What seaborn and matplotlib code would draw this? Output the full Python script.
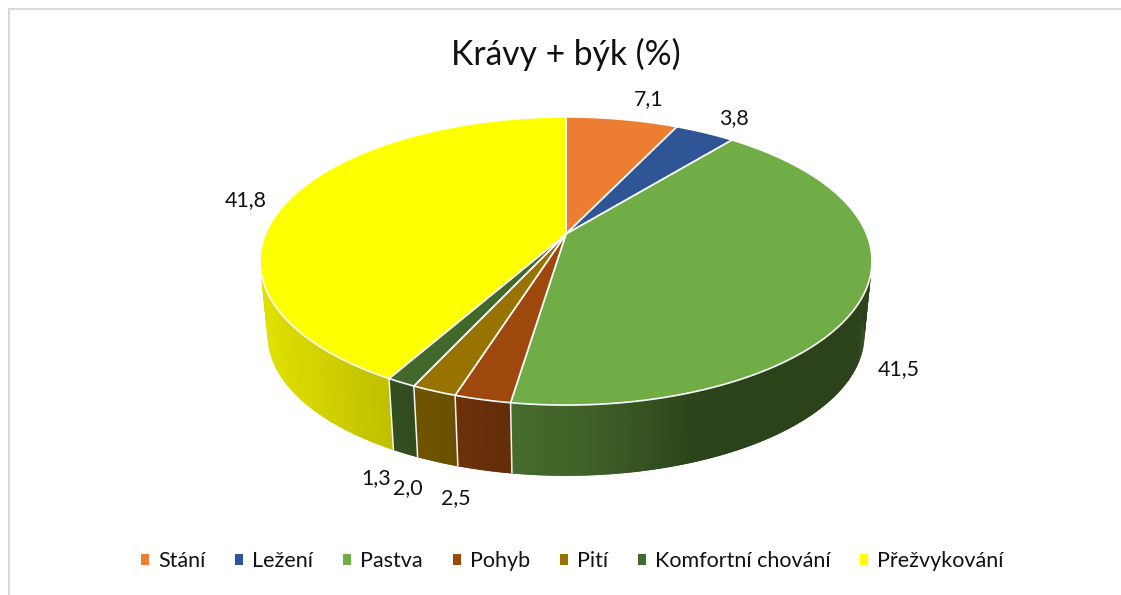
import matplotlib
matplotlib.use("Agg")
import matplotlib.pyplot as plt
from matplotlib.collections import PolyCollection
from matplotlib.patches import Patch
import numpy as np
import seaborn as sns

labels = ["Stání", "Ležení", "Pastva", "Pohyb", "Pití", "Komfortní chování", "Přežvykování"]
values = [7.1, 3.8, 41.5, 2.5, 2.0, 1.3, 41.8]
value_text = ["7,1", "3,8", "41,5", "2,5", "2,0", "1,3", "41,8"]
hex_colors = ["#ED7D31", "#2F5597", "#70AD47", "#9E480E", "#997300", "#43682B", "#FFFF00"]

sns.set_theme(style="white")
plt.rcParams["font.family"] = ["Lato", "DejaVu Sans"]
palette = sns.color_palette(hex_colors)

# the pie is drawn in pixel coordinates of the picture
cx, cy = 566, 234
A, B, k = 139.0, 300.6, 0.1875
drop, shrink = 75, 0.975

# data label centres, in pixels
label_xy = [(649, 99), (734, 118), (899, 369), (456, 498), (408, 488), (376, 478), (246, 200)]


def project(angle, bottom=False):
    # angle in radians, clockwise from 12 o'clock, with perspective towards the viewer
    x, y = np.sin(angle), np.cos(angle)
    px = B * x / (1 + k * y)
    py = A * y / (1 + k * y)
    if bottom:
        return cx + shrink * px, cy + drop - shrink * py
    return cx + px, cy - py


def wall_shade(x):
    return np.interp(x, [262, 390, 450, 510, 600, 700, 870], [0.88, 0.75, 0.70, 0.63, 0.55, 0.39, 0.38])


fig, ax = plt.subplots(figsize=(11.21, 5.95), dpi=100)
ax.set_position([0, 0, 1, 1])
ax.set_xlim(0, 1121)
ax.set_ylim(595, 0)
ax.axis("off")

# chart frame
ax.plot([1121, 8.5, 8.5], [8.5, 8.5, 595], color="#D9D9D9", lw=1.5, solid_joinstyle="miter", zorder=1)

edges = np.radians(np.cumsum([0] + values) * 3.6)

# side walls, each quad runs a bit under the next one so no seams show
quads, quad_colors = [], []
for i, color in enumerate(palette):
    steps = max(int(np.degrees(edges[i + 1] - edges[i]) * 2), 2)
    t = np.linspace(edges[i], edges[i + 1], steps + 1)
    step = t[1] - t[0]
    for t0, t1 in zip(t[:-1], t[1:]):
        t1 = t1 + step
        x0, y0 = project(t0)
        x1, y1 = project(t1)
        x2, y2 = project(t1, bottom=True)
        x3, y3 = project(t0, bottom=True)
        quads.append([(x0, y0), (x1, y1), (x2, y2), (x3, y3)])
        quad_colors.append(tuple(c * wall_shade(x0) for c in color))
ax.add_collection(PolyCollection(quads, facecolors=quad_colors, edgecolors="none", zorder=2))

for e in edges[:-1]:
    x0, y0 = project(e)
    x1, y1 = project(e, bottom=True)
    ax.plot([x0, x1], [y0, y1], color="#F4F4F4", lw=1.1, solid_capstyle="butt", zorder=3)

# top face
for i, color in enumerate(palette):
    t = np.linspace(edges[i], edges[i + 1], 200)
    x, y = project(t)
    ax.fill(np.r_[cx, x], np.r_[cy, y], facecolor=color, edgecolor="white", lw=1.2, joinstyle="round", zorder=4)

for (x, y), txt in zip(label_xy, value_text):
    ax.text(x, y, txt, ha="center", va="center", fontsize=15.4, color="#111111", zorder=5)

ax.text(566, 54, "Krávy + býk (%)", ha="center", va="center", fontsize=24.2, color="#111111")

handles = [Patch(facecolor=c, edgecolor="none", label=l) for c, l in zip(palette, labels)]
ax.legend(handles=handles, ncol=7, loc="center", bbox_to_anchor=(572.5 / 1121, 1 - 561 / 595),
          frameon=False, fontsize=15.5, handlelength=0.37, handleheight=0.37, handletextpad=0.42,
          columnspacing=1.39, labelcolor="#111111")

fig.savefig("out.png", dpi=100)
